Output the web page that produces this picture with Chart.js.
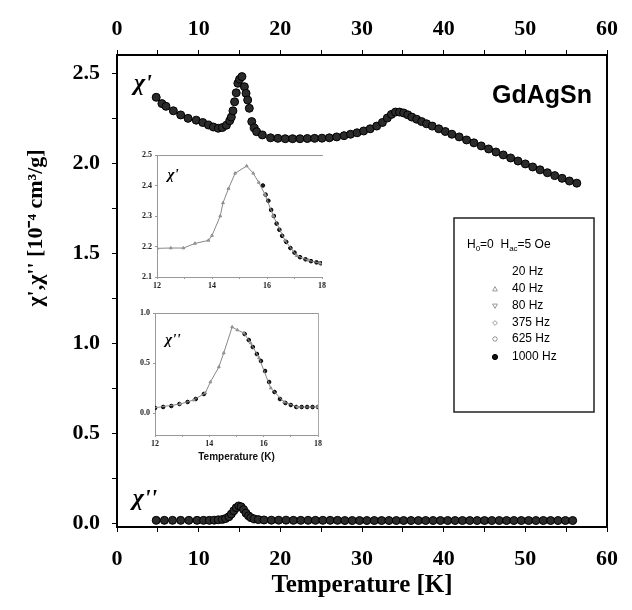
<!DOCTYPE html>
<html><head><meta charset="utf-8">
<script src="https://cdn.jsdelivr.net/npm/chart.js@4.4.1/dist/chart.umd.min.js"></script>
<style>
html,body{margin:0;padding:0;background:#fff;}
#wrap{position:relative;width:632px;height:610px;overflow:hidden;}
#wrap canvas{position:absolute;}
</style></head><body>
<div id="wrap">
<canvas id="main" width="632" height="610" style="left:0;top:0;width:632px;height:610px"></canvas>
<canvas id="in1" width="200" height="152" style="left:128px;top:145px;width:200px;height:152px"></canvas>
<canvas id="in2" width="200" height="160" style="left:126px;top:303px;width:200px;height:160px"></canvas>
</div>
<script>
// ---------- data ----------
const tempReal = [4.8,5.5,6.0,6.9,7.8,8.7,9.7,10.5,11.2,11.8,12.4,12.9,13.4,13.8,14.0,14.2,14.4,14.6,14.8,15.0,15.3,15.6,15.8,16.0,16.2,16.5,16.8,17.1,17.8,18.8,19.7,20.6,21.5,22.4,23.3,24.2,25.1,26.0,26.9,27.8,28.6,29.4,30.2,31.0,31.8,32.5,33.1,33.6,34.1,34.6,35.1,35.6,36.1,36.7,37.3,37.9,38.6,39.4,40.2,41.0,41.9,42.8,43.7,44.6,45.5,46.4,47.3,48.2,49.1,50.0,50.9,51.8,52.7,53.6,54.5,55.4,56.3];
const chiReal  = [2.365,2.33,2.315,2.29,2.267,2.248,2.238,2.225,2.211,2.2,2.193,2.197,2.21,2.235,2.255,2.29,2.34,2.39,2.443,2.465,2.48,2.424,2.387,2.35,2.304,2.23,2.195,2.174,2.156,2.14,2.137,2.135,2.135,2.135,2.136,2.137,2.138,2.14,2.145,2.152,2.16,2.168,2.178,2.19,2.205,2.225,2.25,2.27,2.283,2.283,2.278,2.268,2.255,2.243,2.23,2.218,2.205,2.19,2.175,2.16,2.145,2.128,2.112,2.095,2.078,2.061,2.045,2.028,2.011,1.995,1.978,1.962,1.946,1.93,1.915,1.9,1.888];
const tempImag = [4.8,5.8,6.8,7.8,8.8,9.8,10.6,11.3,11.9,12.4,12.9,13.3,13.7,14.0,14.3,14.6,14.9,15.2,15.5,15.8,16.1,16.4,16.8,17.3,18.0,18.9,19.8,20.7,21.6,22.5,23.4,24.3,25.2,26.1,27.0,27.9,28.8,29.7,30.6,31.5,32.4,33.3,34.2,35.1,36.0,36.9,37.8,38.7,39.6,40.5,41.4,42.3,43.2,44.1,45.0,45.9,46.8,47.7,48.6,49.5,50.4,51.3,52.2,53.1,54.0,54.9,55.8];
const chiImag  = [0.015,0.015,0.015,0.015,0.015,0.015,0.015,0.015,0.016,0.018,0.02,0.025,0.035,0.05,0.068,0.085,0.095,0.09,0.075,0.055,0.04,0.03,0.023,0.019,0.017,0.016,0.016,0.016,0.015,0.015,0.015,0.015,0.015,0.015,0.015,0.014,0.014,0.014,0.014,0.014,0.014,0.014,0.014,0.014,0.014,0.014,0.014,0.014,0.014,0.014,0.014,0.014,0.014,0.014,0.014,0.014,0.014,0.014,0.014,0.014,0.014,0.014,0.014,0.014,0.014,0.014,0.014];

// inset 1: chi' (axis 2.1 - 2.5)
const insetTempReal = [12.0,12.5,12.96,13.38,13.87,14.0,14.3,14.4,14.6,14.84,15.26,15.5,15.7,15.93,16.23,16.65,17.08,17.5,17.93];
const insetChiReal  = [2.194,2.195,2.195,2.21,2.22,2.236,2.30,2.343,2.39,2.44,2.464,2.44,2.41,2.37,2.30,2.22,2.17,2.155,2.145];
const insetTempRealDense = [15.85,15.95,16.05,16.15,16.25,16.35,16.45,16.55,16.7,16.85,17.0,17.2,17.4,17.6,17.8,17.95];
const insetChiRealDense  = [2.40,2.37,2.35,2.32,2.30,2.275,2.255,2.235,2.215,2.195,2.18,2.165,2.158,2.152,2.148,2.145];

// inset 2: chi'' in the inset's own axis units (0.0 - 1.0)
const insetTempImag = [11.94,12.93,13.42,13.85,14.04,14.35,14.53,14.84,15.03,15.27,15.52,15.83,16.26,16.75,17.25,17.99];
const insetChiImag  = [0.05,0.09,0.13,0.2,0.31,0.46,0.6,0.86,0.83,0.8,0.7,0.55,0.25,0.11,0.06,0.06];
const insetTempImagDense = [12.0,12.3,12.6,12.9,13.2,13.5,13.8,15.3,15.45,15.6,15.75,15.9,16.05,16.2,16.4,16.6,16.8,17.0,17.2,17.4,17.6,17.8,18.0];
const insetChiImagDense  = [0.05,0.06,0.07,0.09,0.11,0.14,0.19,0.79,0.73,0.66,0.59,0.52,0.42,0.31,0.21,0.14,0.1,0.08,0.06,0.06,0.06,0.06,0.06];

const xMajorTicks = [0,10,20,30,40,50,60];
const xMinorTicks = [5,15,25,35,45,55];
const yMajorTicks = [0,0.5,1.0,1.5,2.0,2.5];
const yMinorTicks = [0.25,0.75,1.25,1.75,2.25];
const insetXMajorTicks = [12,14,16,18];
const insetXMinorTicks = [13,15,17];
const insetRealYTicks = [2.1,2.2,2.3,2.4,2.5];
const insetImagYTicks = [0,0.5,1.0];
const legendLabels = ['20 Hz','40 Hz','80 Hz','375 Hz','625 Hz','1000 Hz'];
const legendMarkers = ['none','triangle','invTriangle','diamond','hex','circle'];
const compoundName = 'GdAgSn';

// ---------- helpers ----------
const pts = (xs, ys) => xs.map((x, i) => ({x: x, y: ys[i]}));
const near = (arr, v) => arr.some(a => Math.abs(a - v) < 1e-6);
const setTicks = vals => s => { s.ticks = vals.slice().sort((a,b)=>a-b).map(v => ({value: v})); };
const SERIF = '"Liberation Serif", "Times New Roman", serif';
const SANS = '"Liberation Sans", Arial, sans-serif';

function marker(ctx, type, x, y, r, fill, stroke) {
  ctx.save();
  ctx.fillStyle = fill; ctx.strokeStyle = stroke; ctx.lineWidth = 1;
  ctx.beginPath();
  if (type === 'circle') { ctx.arc(x, y, r, 0, Math.PI*2); ctx.fill(); ctx.stroke(); }
  else if (type === 'triangle') { ctx.moveTo(x, y-r); ctx.lineTo(x+r, y+r*0.8); ctx.lineTo(x-r, y+r*0.8); ctx.closePath(); ctx.stroke(); }
  else if (type === 'invTriangle') { ctx.moveTo(x, y+r); ctx.lineTo(x+r, y-r*0.8); ctx.lineTo(x-r, y-r*0.8); ctx.closePath(); ctx.stroke(); }
  else if (type === 'diamond') { ctx.moveTo(x, y-r); ctx.lineTo(x+r, y); ctx.lineTo(x, y+r); ctx.lineTo(x-r, y); ctx.closePath(); ctx.stroke(); }
  else if (type === 'hex') { for (let k=0;k<6;k++){const a=Math.PI/3*k; const px=x+r*Math.cos(a), py=y+r*Math.sin(a); k?ctx.lineTo(px,py):ctx.moveTo(px,py);} ctx.closePath(); ctx.stroke(); }
  ctx.restore();
}

const annotations = {
  id: 'annotations',
  afterDraw(chart) {
    const ctx = chart.ctx;
    ctx.save();
    ctx.fillStyle = '#000';
    // y-axis title
    ctx.save();
    ctx.translate(36, 228);
    ctx.rotate(-Math.PI/2);
    ctx.font = 'bold 22px ' + SERIF;
    ctx.textAlign = 'center'; ctx.textBaseline = 'middle';
    ctx.fillText("\u03C7',\u03C7'' [10\u207B\u2074 cm\u00B3/g]", 0, 0);
    ctx.restore();
    // curve labels
    ctx.font = 'italic bold 24px ' + SERIF;
    ctx.textAlign = 'center'; ctx.textBaseline = 'middle';
    ctx.fillText("\u03C7'", 143, 84);
    ctx.fillText("\u03C7''", 145, 499);
    // compound name
    ctx.font = 'bold 25px ' + SANS;
    ctx.fillText(compoundName, 542, 96);
    // legend box
    ctx.strokeStyle = '#222'; ctx.lineWidth = 1.5;
    ctx.strokeRect(454, 218, 140, 194);
    ctx.font = '12px ' + SANS;
    ctx.textAlign = 'left'; ctx.textBaseline = 'middle';
    let x = 467; const hy = 245;
    const piece = (t, sub) => {
      if (sub) { ctx.font = '8px ' + SANS; ctx.fillText(t, x, hy + 4); x += ctx.measureText(t).width; ctx.font = '12px ' + SANS; }
      else { ctx.fillText(t, x, hy); x += ctx.measureText(t).width; }
    };
    piece('H'); piece('0', true); piece('=0  H'); piece('ac', true); piece('=5 Oe');
    const rowsY = [272, 289, 306, 323, 339, 357];
    legendLabels.forEach((lab, i) => {
      ctx.fillStyle = '#000';
      ctx.fillText(lab, 512, rowsY[i]);
      const m = legendMarkers[i];
      if (m === 'circle') marker(ctx, m, 495, rowsY[i], 2.6, '#111', '#000');
      else if (m !== 'none') marker(ctx, m, 495, rowsY[i], 2.4, '#fff', '#999');
    });
    ctx.restore();
  }
};

const tickFont = {family: SERIF, weight: 'bold', size: 22};

new Chart(document.getElementById('main'), {
  type: 'scatter',
  data: { datasets: [
    { label: "chi' 1000 Hz", data: pts(tempReal, chiReal), pointRadius: 4, pointBackgroundColor: '#2b2b2b', pointBorderColor: '#000', pointBorderWidth: 1, showLine: false },
    { label: "chi'' 1000 Hz", data: pts(tempImag, chiImag), pointRadius: 4, pointBackgroundColor: '#2b2b2b', pointBorderColor: '#000', pointBorderWidth: 1, showLine: false }
  ]},
  options: {
    responsive: false, animation: false, devicePixelRatio: 1,
    layout: { padding: {left: 0, right: 0, top: 0, bottom: 0} },
    plugins: { legend: {display: false}, tooltip: {enabled: false} },
    scales: {
      x: { type: 'linear', position: 'bottom', min: 0, max: 60,
        afterBuildTicks: setTicks(xMajorTicks.concat(xMinorTicks)),
        afterFit: s => { s.height = 83; },
        ticks: { autoSkip: false, maxRotation: 0, padding: 14, color: '#000', font: tickFont, callback: v => near(xMajorTicks, v) ? String(v) : '' },
        grid: { drawOnChartArea: false, drawTicks: true, tickLength: 5, color: '#000' },
        border: { display: true, color: '#000', width: 2 },
        title: { display: true, text: 'Temperature [K]', color: '#000', font: {family: SERIF, weight: 'bold', size: 25}, padding: {top: 0, bottom: 9} } },
      x2: { type: 'linear', axis: 'x', position: 'top', min: 0, max: 60,
        afterBuildTicks: setTicks(xMajorTicks.concat(xMinorTicks)),
        afterFit: s => { s.height = 55; },
        ticks: { autoSkip: false, maxRotation: 0, padding: 7, color: '#000', font: tickFont, callback: v => near(xMajorTicks, v) ? String(v) : '' },
        grid: { drawOnChartArea: false, drawTicks: true, tickLength: 5, color: '#000' },
        border: { display: true, color: '#000', width: 2 } },
      y: { type: 'linear', position: 'left', min: -0.022, max: 2.6,
        afterBuildTicks: setTicks(yMajorTicks.concat(yMinorTicks)),
        afterFit: s => { s.width = 117; },
        ticks: { autoSkip: false, padding: 12, color: '#000', font: tickFont, callback: v => near(yMajorTicks, v) ? v.toFixed(1) : '' },
        grid: { drawOnChartArea: false, drawTicks: true, tickLength: 5, color: '#000' },
        border: { display: true, color: '#000', width: 2 } },
      y2: { type: 'linear', axis: 'y', position: 'right', min: -0.022, max: 2.6,
        afterFit: s => { s.width = 16; },
        ticks: { display: false },
        grid: { drawOnChartArea: false, drawTicks: false },
        border: { display: true, color: '#000', width: 2 } }
    }
  },
  plugins: [annotations]
});

const insetFont = {family: SERIF, weight: 'bold', size: 8};
function insetLabel(text, x, y) {
  return { id: 'lab', afterDraw(chart) { const c = chart.ctx; c.save(); c.font = 'italic bold 15px ' + SERIF; c.fillStyle = '#000'; c.textAlign = 'center'; c.textBaseline = 'middle'; c.fillText(text, x, y); c.restore(); } };
}

function insetOptions(ymin, ymax, yticks, ydigits, bottomH, withTitle, rightBorder) {
  return {
    responsive: false, animation: false, devicePixelRatio: 1,
    layout: { padding: {left: 0, right: rightBorder ? 0 : 6, top: 10, bottom: 0} },
    plugins: { legend: {display: false}, tooltip: {enabled: false} },
    scales: {
      x: { type: 'linear', min: 12, max: 18,
        afterBuildTicks: setTicks(insetXMajorTicks.concat(insetXMinorTicks)),
        afterFit: s => { s.height = bottomH; },
        ticks: { autoSkip: false, maxRotation: 0, padding: 2, color: '#222', font: insetFont, callback: v => near(insetXMajorTicks, v) ? String(v) : '' },
        grid: { drawOnChartArea: false, tickLength: 2, color: '#999' },
        border: { display: true, color: '#999', width: 1, dash: [1, 3] },
        title: { display: withTitle, text: 'Temperature (K)', color: '#111', font: {family: SANS, weight: 'bold', size: 10}, padding: {top: 1, bottom: 0} } },
      x2: { type: 'linear', axis: 'x', position: 'top', min: 12, max: 18,
        afterFit: s => { s.height = 0; },
        ticks: { display: false }, grid: { drawOnChartArea: false, drawTicks: false },
        border: { display: true, color: '#999', width: 1, dash: [1, 3] } },
      y: { type: 'linear', min: ymin, max: ymax,
        afterBuildTicks: setTicks(yticks),
        afterFit: s => { s.width = 29; },
        ticks: { autoSkip: false, padding: 3, color: '#222', font: insetFont, callback: v => v.toFixed(ydigits) },
        grid: { drawOnChartArea: false, tickLength: 2, color: '#999' },
        border: { display: true, color: '#999', width: 1 } },
      y2: { type: 'linear', axis: 'y', position: 'right', min: ymin, max: ymax, display: rightBorder,
        afterFit: s => { s.width = rightBorder ? 8 : 0; },
        ticks: { display: false }, grid: { drawOnChartArea: false, drawTicks: false },
        border: { display: true, color: '#aaa', width: 1, dash: [1, 3] } }
    }
  };
}

new Chart(document.getElementById('in1'), {
  type: 'scatter',
  data: { datasets: [
    { label: 'all frequencies', data: pts(insetTempReal, insetChiReal), showLine: true, borderColor: '#888', borderWidth: 1, pointRadius: 1.6, pointStyle: 'triangle', pointBackgroundColor: '#bbb', pointBorderColor: '#888' },
    { label: '1000 Hz', data: pts(insetTempRealDense, insetChiRealDense), showLine: false, pointRadius: 1.8, pointBackgroundColor: '#222', pointBorderColor: '#000' }
  ]},
  options: insetOptions(2.1, 2.5, insetRealYTicks, 1, 20, false, false),
  plugins: [insetLabel("\u03C7'", 45, 30)]
});

new Chart(document.getElementById('in2'), {
  type: 'scatter',
  data: { datasets: [
    { label: 'all frequencies', data: pts(insetTempImag, insetChiImag), showLine: true, borderColor: '#888', borderWidth: 1, pointRadius: 1.6, pointStyle: 'triangle', pointBackgroundColor: '#bbb', pointBorderColor: '#888' },
    { label: '1000 Hz', data: pts(insetTempImagDense, insetChiImagDense), showLine: false, pointRadius: 1.8, pointBackgroundColor: '#222', pointBorderColor: '#000' }
  ]},
  options: insetOptions(-0.22, 1.0, insetImagYTicks, 1, 28, true, true),
  plugins: [insetLabel("\u03C7''", 47, 37)]
});
</script>
</body></html>
